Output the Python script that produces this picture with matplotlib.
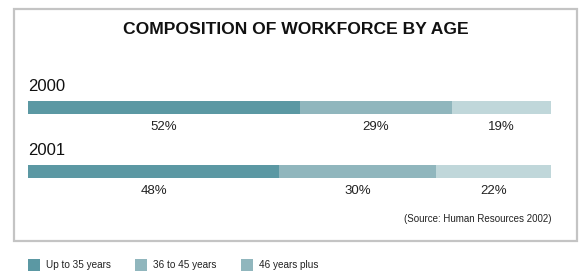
import matplotlib.pyplot as plt
from matplotlib.patches import Rectangle
from matplotlib import font_manager

# data
years = ["2000", "2001"]
groups = ["Up to 35 years", "36 to 45 years", "46 years plus"]
share_2000 = [52, 29, 19]
share_2001 = [48, 30, 22]
shares = [share_2000, share_2001]

colors = ["#5b98a3", "#90b6bd", "#c0d7da"]
legend_colors = ["#5b98a3", "#90b6bd", "#90b6bd"]

names = {f.name for f in font_manager.fontManager.ttflist}
narrow = "Liberation Sans Narrow" if "Liberation Sans Narrow" in names else "Liberation Sans"

W, H = 580, 272
fig = plt.figure(figsize=(W / 100, H / 100), dpi=100)

# frame around the chart
frame = fig.add_axes([0, 0, 1, 1])
frame.set_xlim(0, W)
frame.set_ylim(H, 0)
frame.axis("off")
frame.add_patch(Rectangle((13.5, 8.5), 563, 232, fill=False, edgecolor="#c4c4c4", linewidth=1.6))
frame.text(296, 30, "COMPOSITION OF WORKFORCE BY AGE", ha="center", va="center",
           fontsize=12.6, fontweight="bold", family="Liberation Sans", color="#111111")

# bars
left_px, right_px = 28, 551
ax = fig.add_axes([left_px / W, 0, (right_px - left_px) / W, 1])
ax.set_xlim(0, 100)
ax.set_ylim(H, 0)
ax.axis("off")

bar_y = [107.5, 171.5]
for year, vals, y in zip(years, shares, bar_y):
    start = 0
    for v, c in zip(vals, colors):
        ax.barh(y, v, left=start, height=13, color=c, edgecolor="none")
        ax.text(start + v / 2, y + 19, f"{v}%", ha="center", va="center",
                fontsize=9.5, family=narrow, color="#222222")
        start += v
    ax.text(0, y - 21, year, ha="left", va="center", fontsize=12,
            family="Liberation Sans", color="#111111")

frame.text(551, 219, "(Source: Human Resources 2002)", ha="right", va="center",
           fontsize=7, family=narrow, color="#222222")

# legend
leg_x = [28, 135, 241]
for x, g, c in zip(leg_x, groups, legend_colors):
    frame.add_patch(Rectangle((x, 259), 12, 12, color=c, linewidth=0))
    frame.text(x + 18, 265, g, ha="left", va="center", fontsize=7.2,
               family=narrow, color="#222222")

fig.savefig("out.png", dpi=100)
